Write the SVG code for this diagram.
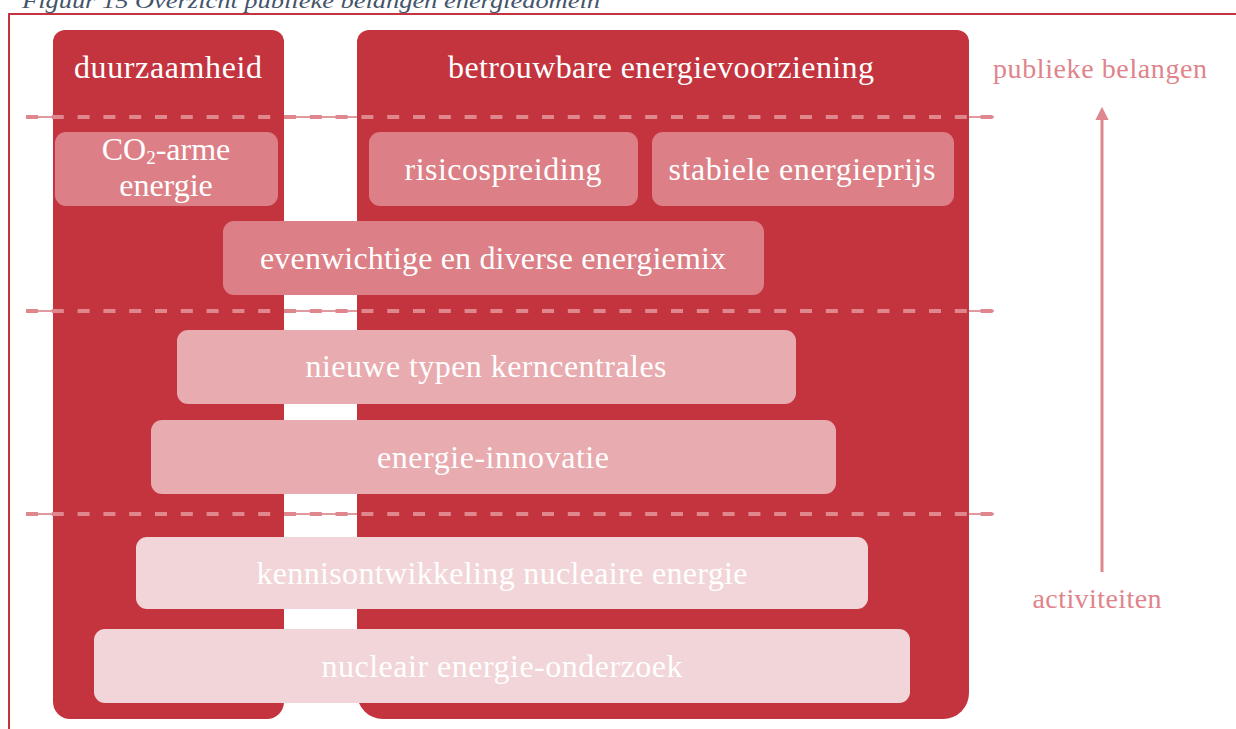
<svg xmlns="http://www.w3.org/2000/svg" width="1236" height="729" viewBox="0 0 1236 729">
<style>
.col{fill:#c3343f}
.b1{fill:#dc7f86}
.b2{fill:#e8abb0}
.b3{fill:#f2d5d8}
.t{font-family:"Liberation Serif","Times New Roman",serif;font-size:32px;fill:#ffffff;text-anchor:middle}
.side{font-family:"Liberation Serif","Times New Roman",serif;font-size:28px;fill:#e0848c;text-anchor:middle}
.thin{stroke:#c3343f;stroke-width:1;fill:none}
.dash{stroke:#e0878e;stroke-width:4;fill:none;stroke-dasharray:12 13.8}
</style>
<defs>
<marker id="ah" markerWidth="4.4" markerHeight="4.4" refX="2" refY="2.2" orient="auto" markerUnits="strokeWidth">
<path d="M0,0 L4.4,2.2 L0,4.4 z" fill="#e0878e"/>
</marker>
</defs>
<rect width="1236" height="729" fill="#ffffff"/>
<text x="22" y="8" font-family="Liberation Serif, Times New Roman, serif" font-style="italic" font-size="20" fill="#44546a" textLength="578" lengthAdjust="spacingAndGlyphs">Figuur 15 Overzicht publieke belangen energiedomein</text>
<g id="frame">
<line x1="8" y1="14" x2="1236" y2="14" stroke="#c3343f" stroke-width="2"/>
<line x1="9" y1="13" x2="9" y2="729" stroke="#c3343f" stroke-width="2"/>
</g>
<g id="duurzaamheid">
<path class="col" d="M65,30 H272 A12,12 0 0 1 284,42 V702 A17,17 0 0 1 267,719 H70 A17,17 0 0 1 53,702 V42 A12,12 0 0 1 65,30 Z"/>
<text class="t" x="168" y="78" textLength="188" lengthAdjust="spacing">duurzaamheid</text>
</g>
<g id="betrouwbare">
<path class="col" d="M369,30 H957 A12,12 0 0 1 969,42 V693 A26,26 0 0 1 943,719 H383 A26,26 0 0 1 357,693 V42 A12,12 0 0 1 369,30 Z"/>
<text class="t" x="661" y="78" textLength="426" lengthAdjust="spacing">betrouwbare energievoorziening</text>
</g>
<g id="connectors">
<line class="thin" x1="26" y1="117" x2="994" y2="117"/>
<line class="dash" x1="26" y1="117" x2="994" y2="117"/>
<line class="thin" x1="26" y1="311" x2="994" y2="311"/>
<line class="dash" x1="26" y1="311" x2="994" y2="311"/>
<line class="thin" x1="26" y1="514" x2="994" y2="514"/>
<line class="dash" x1="26" y1="514" x2="994" y2="514"/>
<line x1="1102" y1="572" x2="1102" y2="114" stroke="#e0878e" stroke-width="3" marker-end="url(#ah)"/>
</g>
<g id="co2">
<rect class="b1" x="55" y="132" width="223" height="74" rx="11"/>
<text class="t" x="166" y="160" font-size="30">CO<tspan font-size="19" dy="4">2</tspan><tspan dy="-4">-arme</tspan></text>
<text class="t" x="166" y="196" font-size="30">energie</text>
</g>
<g id="risicospreiding">
<rect class="b1" x="369" y="132" width="269" height="74" rx="11"/>
<text class="t" x="503" y="180" textLength="197" lengthAdjust="spacing">risicospreiding</text>
</g>
<g id="stabiele">
<rect class="b1" x="652" y="132" width="302" height="74" rx="11"/>
<text class="t" x="802" y="180" textLength="267" lengthAdjust="spacing">stabiele energieprijs</text>
</g>
<g id="energiemix">
<rect class="b1" x="223" y="221" width="541" height="74" rx="11"/>
<text class="t" x="493" y="269" textLength="466" lengthAdjust="spacing">evenwichtige en diverse energiemix</text>
</g>
<g id="kerncentrales">
<rect class="b2" x="177" y="330" width="619" height="74" rx="11"/>
<text class="t" x="486" y="377" textLength="361" lengthAdjust="spacing">nieuwe typen kerncentrales</text>
</g>
<g id="innovatie">
<rect class="b2" x="151" y="420" width="685" height="74" rx="11"/>
<text class="t" x="493" y="468" textLength="232" lengthAdjust="spacing">energie-innovatie</text>
</g>
<g id="kennis">
<rect class="b3" x="136" y="537" width="732" height="72" rx="11"/>
<text class="t" x="502" y="584" textLength="491" lengthAdjust="spacing">kennisontwikkeling nucleaire energie</text>
</g>
<g id="onderzoek">
<rect class="b3" x="94" y="629" width="816" height="74" rx="11"/>
<text class="t" x="502" y="677" textLength="361" lengthAdjust="spacing">nucleair energie-onderzoek</text>
</g>
<g id="labels">
<text class="side" x="1100" y="78" textLength="214" lengthAdjust="spacing">publieke belangen</text>
<text class="side" x="1097" y="608" textLength="129" lengthAdjust="spacing">activiteiten</text>
</g>
</svg>
